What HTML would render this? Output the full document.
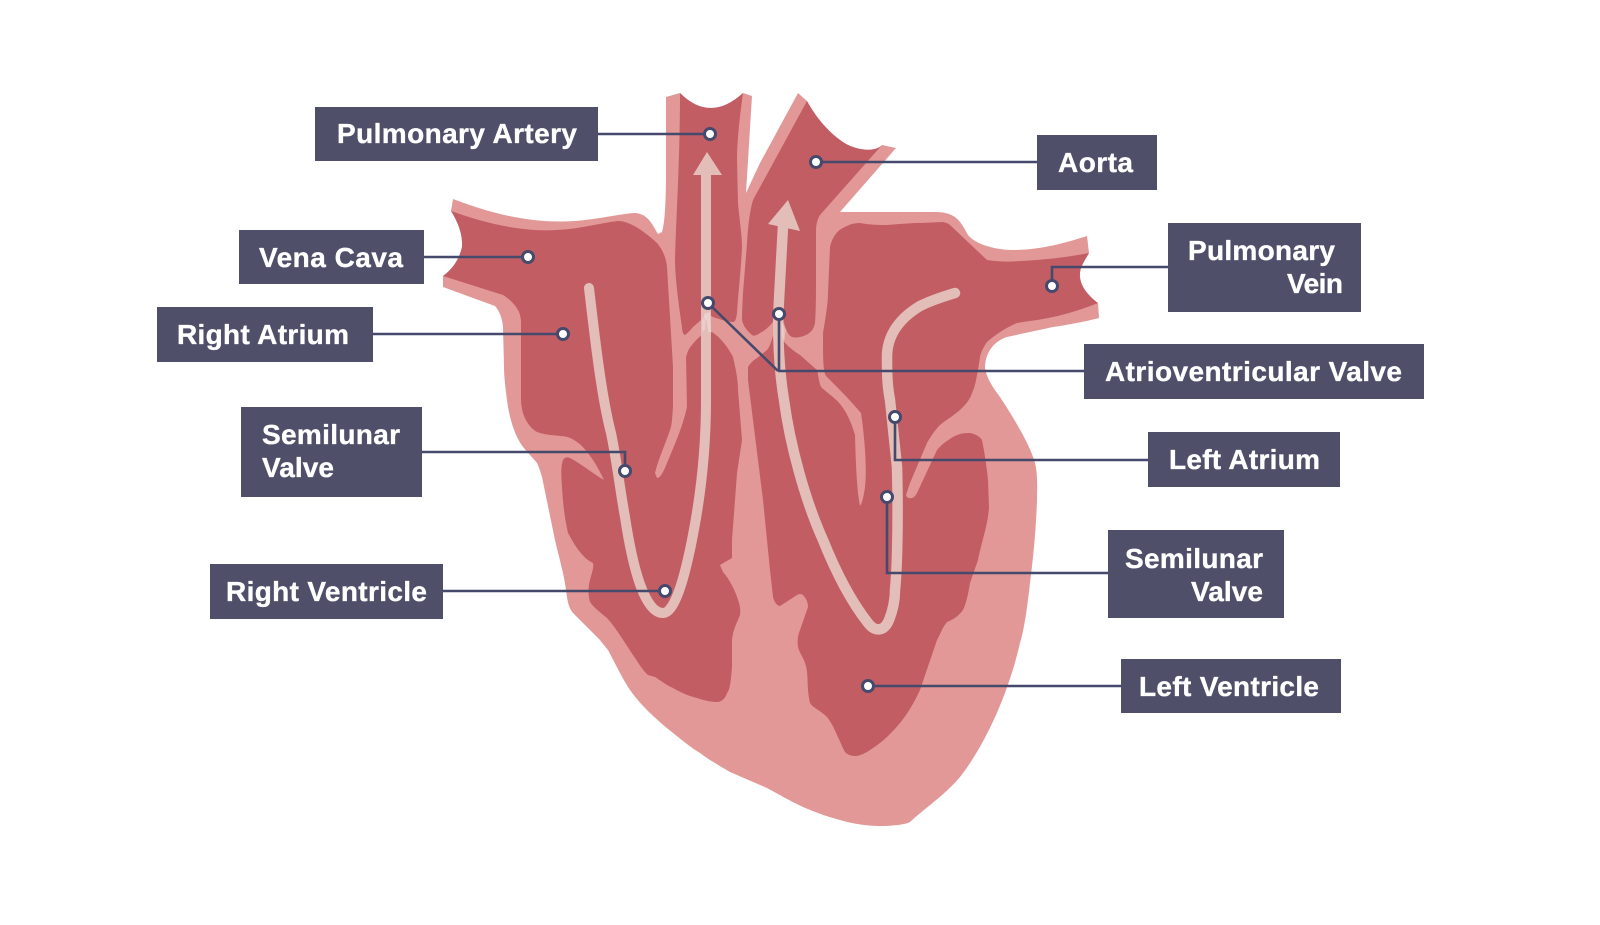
<!DOCTYPE html>
<html lang="en">
<head>
<meta charset="utf-8">
<title>Heart diagram</title>
<style>
html,body{margin:0;padding:0;background:#fff;width:1600px;height:925px;overflow:hidden}
svg{display:block}
text{font-family:"Liberation Sans",Arial,sans-serif;font-weight:700;font-size:28px;fill:#fff;stroke:#fff;stroke-width:0.35}
</style>
</head>
<body>
<svg width="1600" height="925" viewBox="0 0 1600 925" xmlns="http://www.w3.org/2000/svg">
<rect width="1600" height="925" fill="#fff"/>

<!-- outer silhouette -->
<path fill="#e29896" d="M453 199 C490 213 530 224 575 221 C600 219 625 213 635 213 C648 214 652 224 658 234 L662 232 C665 222 666 200 666 170 L666 97 L680 93 Q710 123 743 93 L752 96 L746 193 L760 163 L798 93 L807 101 C820 125 840 143 853 147 C862 150 875 152 882 145 L896 148 L840 212 L935 212 C955 212 960 220 968 235 C975 244 995 250 1013 250 C1040 250 1065 243 1087 236 L1089 253 C1084 262 1079 268 1080 277 C1081 288 1090 297 1098 303 L1099 318 C1080 323 1060 326 1053 327 L1007 337 C997 340 985 350 985 368 C987 380 995 390 1000 397 C1015 420 1030 445 1035 463 C1038 475 1037 490 1037 500 C1036 530 1033 560 1030 583 C1027 610 1024 630 1020 643 C1008 695 985 745 960 777 C945 795 925 808 910 822 C905 825 890 826 880 826 C865 826 850 823 840 820 C825 816 815 812 803 807 C790 801 778 794 767 788 L730 772 C718 765 708 759 700 753 C690 747 682 740 673 733 C663 725 655 718 647 710 C640 703 635 697 630 690 C622 678 615 663 608 650 C604 645 602 643 600 640 L573 613 C569 608 568 603 567 597 C566 590 565 582 563 573 L555 540 L542 477 C540 470 538 465 537 463 C532 457 527 452 523 447 C518 440 515 433 513 427 C510 418 508 408 507 400 C505 385 504 375 504 367 L503 327 C502 318 500 312 495 306 L443 287 L443 276 Q458 265 462 247 Q463 230 451 211 Z"/>

<!-- right atrium and ventricle -->
<path fill="#c25d64" d="M451 211 C490 225 525 232 557 230 C580 229 600 223 618 221 C630 221 645 232 657 243 C663 250 666 258 667 267 L673 367 L673 407 C672 420 672 425 670 430 C665 445 658 460 655 473 L657 478 C660 478 662 474 665 468 C672 450 682 430 687 407 L686 357 C688 350 690 347 692 345 C695 341 699 337 702 335 L712 332 C720 337 728 347 733 357 C736 370 738 380 738 390 L742 440 L737 473 L732 540 L732 558 L720 565 L723 572 C730 580 736 592 739 603 C741 610 740 612 740 615 C736 625 733 630 732 640 L732 667 C731 680 730 690 727 693 C725 700 720 702 717 702 C710 702 703 700 697 698 C688 696 680 692 673 688 C666 685 660 680 655 677 L648 675 C642 670 638 662 633 655 C625 643 616 628 607 618 C600 612 594 608 590 602 C588 595 588 587 590 580 C592 572 594 568 593 563 C587 560 584 557 580 552 C575 546 572 540 568 533 C565 520 563 505 562 487 C561 475 561 465 563 460 C565 457 567 457 570 458 C580 463 592 473 604 480 C600 472 597 466 593 460 C588 453 583 446 577 442 C572 438 566 436 560 436 C553 435 545 435 537 432 C530 428 525 420 523 413 C521 405 521 402 521 397 L521 323 C521 318 520 314 518 310 C514 303 508 298 503 295 L443 276 Q458 265 462 247 Q463 230 451 211 Z"/>

<!-- pulmonary artery -->
<path fill="#c25d64" d="M680 93 Q710 123 743 93 C740 115 737 140 737 160 L738 203 C740 225 742 235 742 247 C741 270 738 295 737 313 C736 320 735 322 733 322 C728 322 722 320 713 317 L708 314 L693 327 Q688 333 685 335 C683 335 682 330 682 327 C678 300 675 275 675 260 C676 220 680 160 680 93 Z"/>

<!-- aorta -->
<path fill="#c25d64" d="M807 101 C820 125 840 143 853 147 C862 150 875 152 882 145 L820 215 C817 220 816 225 816 232 L816 277 C816 295 816 310 815 323 C813 332 808 335 800 337 Q795 338 792 337 C788 335 786 330 784 323 L773 322 C768 328 764 331 760 333 C756 336 753 336 752 335 C746 330 743 325 742 320 C742 310 743 295 743 293 L747 243 C748 225 750 210 753 200 Z"/>

<!-- left atrium and ventricle -->
<path fill="#c25d64" d="M830 247 C832 238 837 230 845 227 C850 224 855 223 860 223 C870 225 880 225 887 225 C900 224 910 223 920 223 L943 222 Q948 223 950 225 L987 260 C1000 262 1010 262 1020 261 C1045 260 1068 257 1089 253 C1084 262 1079 268 1080 277 C1081 288 1090 297 1098 303 C1080 310 1067 314 1053 317 C1040 320 1028 321 1017 323 C1005 328 995 335 987 342 C983 348 981 352 980 357 C978 370 976 385 972 393 C970 400 965 405 960 410 C953 416 946 420 940 425 C935 430 931 436 927 443 L910 483 L906 495 Q907 499 912 498 Q915 497 917 493 L937 450 C942 444 948 440 953 437 C960 433 965 433 970 433 C976 434 980 437 982 440 C985 455 987 470 988 480 L989 507 C988 525 982 540 978 560 L970 583 C968 595 966 604 963 610 C958 617 952 620 947 622 C942 628 940 635 937 640 L920 690 C914 703 908 713 900 723 C890 735 882 742 873 748 C866 753 860 756 855 756 C850 756 847 754 845 752 C842 747 840 741 837 735 C834 728 831 722 827 717 C820 710 813 708 810 703 C807 690 808 680 807 672 C806 660 800 655 798 647 C797 640 798 635 800 630 L808 607 Q808 600 803 595 Q800 593 797 595 L780 606 Q775 605 773 597 L770 570 L763 500 L748 380 L748 367 C751 362 754 360 757 358 L767 350 C771 345 773 336 775 327 L785 343 C790 348 795 352 800 355 L817 370 C819 378 819 385 822 388 C830 395 838 400 843 408 C848 415 852 425 855 435 C856 470 857 490 860 506 C862 504 864 495 865 487 C867 470 865 440 861 413 C850 400 838 388 826 376 C823 370 823 360 823 333 C825 320 828 305 828 293 L830 247 Z"/>

<!-- flow arrows -->
<g fill="none" stroke="#e3bdb8" stroke-linecap="round" stroke-linejoin="round">
  <path stroke-width="10" d="M589 288 C594 330 601 395 611 433 C617 462 620 490 625 517 C633 570 645 613 663 613 C676 613 686 570 692 540 C700 500 706 450 706 400 L706 170"/>
  <path stroke-width="10.5" d="M783 226 L779 300 C777 330 779 370 784 400 C790 445 805 500 823 540 C835 570 850 600 868 623 C875 632 884 632 889 620 C893 610 895 600 895 590 C898 560 898 500 897 467 L890 400 C887 385 887 370 887 357 C887 335 900 318 920 306 C932 300 945 296 955 293"/>
</g>
<polygon fill="#e3bdb8" points="707,152 693,175 722,175"/>
<polygon fill="#e3bdb8" points="788,200 768,224 800,231"/>

<!-- valve glints -->
<polygon fill="#ffffff" fill-opacity="0.3" points="704,314 710,312 711,333 708,331 707,322"/>
<polygon fill="#ffffff" fill-opacity="0.25" points="702,332 702,320 706,314 705,330"/>
<polygon fill="#ffffff" fill-opacity="0.3" points="782,322 786,330 784,342 782,336"/>

<!-- connectors -->
<g fill="none" stroke="#45496b" stroke-width="2.6" stroke-linejoin="miter">
  <path d="M598 134 H710"/>
  <path d="M816 162 H1037"/>
  <path d="M424 257 H528"/>
  <path d="M373 334 H563"/>
  <path d="M1052 286 V267 H1168"/>
  <path d="M708 303 L778 371 M779 314 V371 M778 371 H1084"/>
  <path d="M895 417 V460 H1148"/>
  <path d="M887 497 V573 H1108"/>
  <path d="M868 686 H1121"/>
  <path d="M665 591 H443"/>
  <path d="M625 471 V452 H422"/>
</g>
<g fill="#fff" stroke="#45496b" stroke-width="3">
  <circle cx="710" cy="134" r="5.5"/>
  <circle cx="816" cy="162" r="5.5"/>
  <circle cx="528" cy="257" r="5.5"/>
  <circle cx="563" cy="334" r="5.5"/>
  <circle cx="1052" cy="286" r="5.5"/>
  <circle cx="708" cy="303" r="5.5"/>
  <circle cx="779" cy="314" r="5.5"/>
  <circle cx="895" cy="417" r="5.5"/>
  <circle cx="887" cy="497" r="5.5"/>
  <circle cx="868" cy="686" r="5.5"/>
  <circle cx="665" cy="591" r="5.5"/>
  <circle cx="625" cy="471" r="5.5"/>
</g>

<!-- label boxes -->
<g fill="#4f4f6a">
  <rect x="315" y="107" width="283" height="54"/>
  <rect x="1037" y="135" width="120" height="55"/>
  <rect x="239" y="230" width="185" height="54"/>
  <rect x="157" y="307" width="216" height="55"/>
  <rect x="1168" y="223" width="193" height="89"/>
  <rect x="1084" y="344" width="340" height="55"/>
  <rect x="1148" y="432" width="192" height="55"/>
  <rect x="1108" y="530" width="176" height="88"/>
  <rect x="1121" y="659" width="220" height="54"/>
  <rect x="241" y="407" width="181" height="90"/>
  <rect x="210" y="564" width="233" height="55"/>
</g>

<!-- labels -->
<text x="337" y="143" textLength="240" lengthAdjust="spacing">Pulmonary Artery</text>
<text x="1058" y="172" textLength="75" lengthAdjust="spacing">Aorta</text>
<text x="259" y="267" textLength="144" lengthAdjust="spacing">Vena Cava</text>
<text x="177" y="344" textLength="172" lengthAdjust="spacing">Right Atrium</text>
<text x="1188" y="260" textLength="147" lengthAdjust="spacing">Pulmonary</text>
<text x="1287" y="293" textLength="56" lengthAdjust="spacing">Vein</text>
<text x="1105" y="381" textLength="297" lengthAdjust="spacing">Atrioventricular Valve</text>
<text x="1169" y="469" textLength="151" lengthAdjust="spacing">Left Atrium</text>
<text x="1125" y="568" textLength="138" lengthAdjust="spacing">Semilunar</text>
<text x="1191" y="601" textLength="72" lengthAdjust="spacing">Valve</text>
<text x="1139" y="696" textLength="180" lengthAdjust="spacing">Left Ventricle</text>
<text x="262" y="444" textLength="138" lengthAdjust="spacing">Semilunar</text>
<text x="262" y="477" textLength="72" lengthAdjust="spacing">Valve</text>
<text x="226" y="601" textLength="201" lengthAdjust="spacing">Right Ventricle</text>
</svg>
</body>
</html>
